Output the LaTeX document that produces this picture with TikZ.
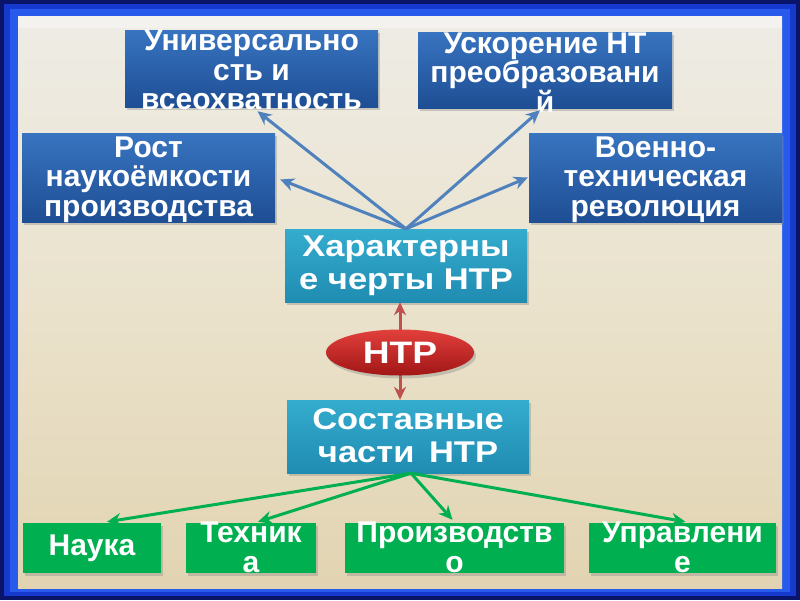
\documentclass[tikz,border=0pt]{standalone}
\usepackage{fontspec}
\setmainfont{Liberation Sans}
\newfontfamily\widef{Liberation Sans}[FakeStretch=1.2]
\newfontfamily\midf{Liberation Sans}[FakeStretch=1.15]
\usetikzlibrary{arrows.meta,shadows,calc,shapes.geometric}
\definecolor{navyc}{RGB}{10,20,105}
\definecolor{framec}{RGB}{22,58,205}
\definecolor{framelt}{RGB}{40,90,235}
\definecolor{beigetop}{RGB}{238,236,230}
\definecolor{beigemid}{RGB}{234,226,204}
\definecolor{beigebot}{RGB}{226,212,178}
\definecolor{bluetop}{RGB}{56,116,192}
\definecolor{bluebot}{RGB}{30,78,148}
\definecolor{tealtop}{RGB}{52,172,206}
\definecolor{tealbot}{RGB}{32,140,178}
\definecolor{greenc}{RGB}{0,176,80}
\definecolor{redtop}{RGB}{226,64,60}
\definecolor{redbot}{RGB}{160,22,22}
\definecolor{arrblue}{RGB}{79,129,189}
\definecolor{arrred}{RGB}{192,80,77}
\definecolor{arrgreen}{RGB}{0,176,80}
\tikzset{
  boxshadow/.style={drop shadow={shadow xshift=2pt,shadow yshift=-3pt,opacity=0.35}},
  bluebox/.style={rectangle,inner sep=0,top color=bluetop,bottom color=bluebot,boxshadow},
  tealbox/.style={rectangle,inner sep=0,top color=tealtop,bottom color=tealbot,boxshadow},
  greenbox/.style={rectangle,inner sep=0,fill=greenc,boxshadow},
  toptext/.style={text=white,align=center,inner sep=0,font=\bfseries\fontsize{30}{29.5}\selectfont},
  midtext/.style={text=white,align=center,inner sep=0,font=\midf\bfseries\fontsize{30}{33}\selectfont},
  lowtext/.style={text=white,align=center,inner sep=0,font=\bfseries\fontsize{30}{30}\selectfont},
  bluearrow/.style={draw=arrblue,line width=3pt,-{Stealth[length=14pt,width=13pt]}},
  redarrow/.style={draw=arrred,line width=3pt,-{Stealth[length=13pt,width=12pt]}},
  greenarrow/.style={draw=arrgreen,line width=3pt,-{Stealth[length=14pt,width=13pt]}}
}
\begin{document}
\begin{tikzpicture}[x=1pt,y=-1pt]
\useasboundingbox (0,0) rectangle (800,600);
% frame
\fill[navyc] (0,0) rectangle (800,600);
\fill[framec] (4,4) rectangle (796,596);
\fill[framelt] (10,9) rectangle (790,592);
\shade[top color=beigetop,bottom color=beigebot,middle color=beigemid] (18,16) rectangle (782,588);
\fill[white,opacity=0.35] (18,16) rectangle (782,28);

% boxes
\node[bluebox,minimum width=253pt,minimum height=77pt] (univ) at (251.5,68.5) {};
\node[toptext] (univT) at (251.5,70) {Универсально\\сть и\\всеохватность};
\node[bluebox,minimum width=254pt,minimum height=76pt] (usk) at (545,70) {};
\node[toptext] (uskT) at (545,72.5) {Ускорение НТ\\преобразовани\\й};
\node[bluebox,minimum width=253pt,minimum height=89pt] (rost) at (148.5,177.5) {};
\node[toptext] (rostT) at (148.5,179.5) {Рост\\наукоёмкости\\производства};
\node[bluebox,minimum width=253pt,minimum height=89pt] (voen) at (655.5,177.5) {};
\node[toptext] (voenT) at (655.5,179.5) {Военно-\\техническая\\революция};

\node[tealbox,minimum width=242pt,minimum height=73pt] (har) at (406,265.5) {};
\node[midtext] (harT) at (406,265.5) {Характерны\\е черты НТР};
\node[tealbox,minimum width=242pt,minimum height=73pt] (sost) at (408,436.5) {};
\node[midtext] (sostT) at (408,436) {Составные\\части\, НТР};

% arrows (behind ellipse)
\draw[redarrow] (400,352) -- (har.south -| 400,0);
\draw[redarrow] (400,352) -- (sost.north -| 400,0);
\node[ellipse,minimum width=148pt,minimum height=46pt,inner sep=0,top color=redtop,bottom color=redbot,boxshadow,
      text=white,font=\widef\bfseries\fontsize{31}{31}\selectfont] (ntr) at (400,352.5) {НТР};

\node[greenbox,minimum width=138pt,minimum height=50pt] (nauka) at (92,548) {};
\node[lowtext] (naukaT) at (92,548) {Наука};
\node[greenbox,minimum width=130pt,minimum height=50pt] (tech) at (251,548) {};
\node[lowtext] (techT) at (251,547) {Техник\\а};
\node[greenbox,minimum width=219pt,minimum height=50pt] (proiz) at (454.5,548) {};
\node[lowtext] (proizT) at (454.5,547) {Производств\\о};
\node[greenbox,minimum width=187pt,minimum height=50pt] (upr) at (682.5,548) {};
\node[lowtext] (uprT) at (682.5,547) {Управлени\\е};

% blue arrows
\draw[bluearrow] (har.north) -- ($(univ.south)+(6,4)$);
\draw[bluearrow] (har.north) -- ($(rost.east)+(5,2)$);
\draw[bluearrow] (har.north) -- ($(usk.south)+(-5,2)$);
\draw[bluearrow] (har.north) -- ($(voen.west)+(-1,0)$);

% green arrows
\draw[greenarrow] ($(sost.south)+(3,0)$) -- ($(nauka.north)+(15,-1)$);
\draw[greenarrow] ($(sost.south)+(3,0)$) -- ($(tech.north)+(7,-1)$);
\draw[greenarrow] ($(sost.south)+(3,0)$) -- ($(proiz.north)+(-2,-3)$);
\draw[greenarrow] ($(sost.south)+(3,0)$) -- ($(upr.north)+(3,-1)$);
\end{tikzpicture}
\end{document}
